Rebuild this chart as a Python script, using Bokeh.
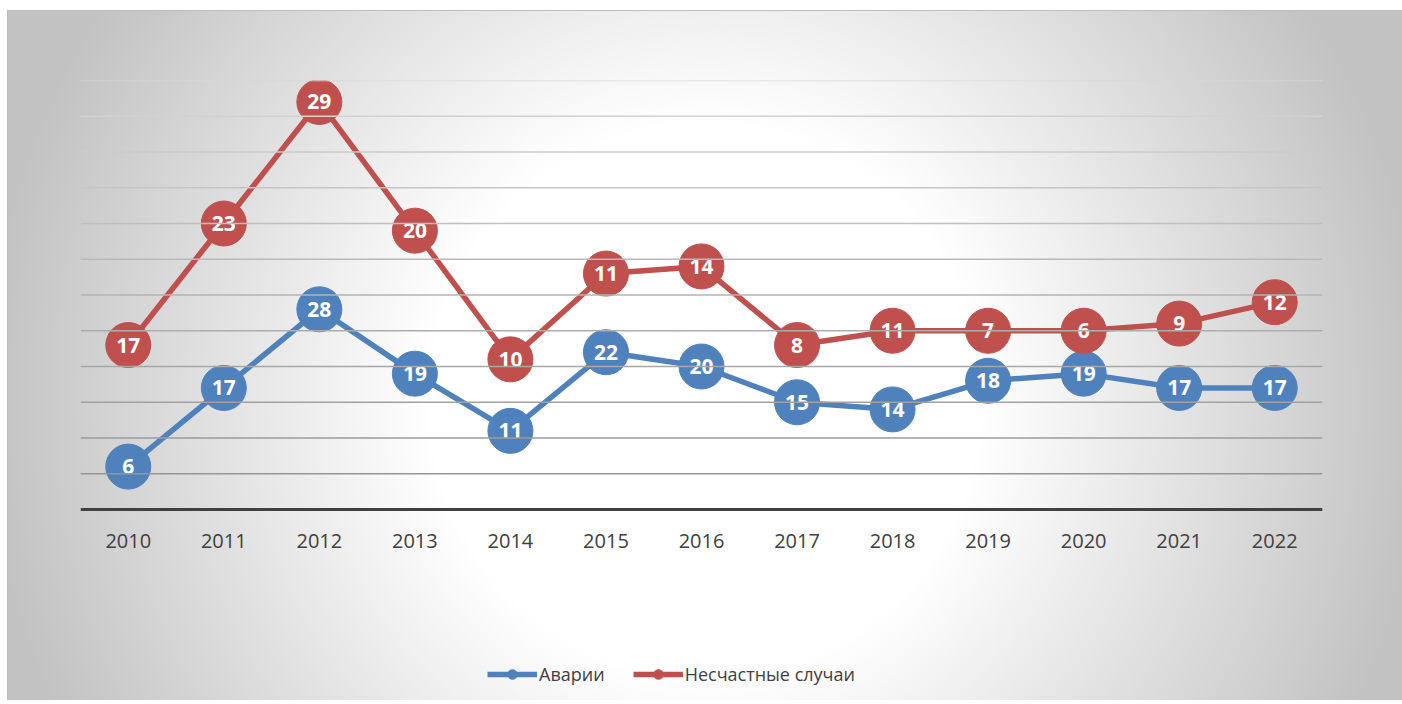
from bokeh.plotting import figure
from bokeh.models import FactorRange, Range1d, ColumnDataSource, Legend, LegendItem, Span
from bokeh.core.properties import value
from bokeh.embed import file_html
from bokeh.resources import INLINE

# ---- data ----
years = ["2010", "2011", "2012", "2013", "2014", "2015", "2016",
         "2017", "2018", "2019", "2020", "2021", "2022"]
accidents = [6, 17, 28, 19, 11, 22, 20, 15, 14, 18, 19, 17, 17]      # Аварии
injuries = [17, 23, 29, 20, 10, 11, 14, 8, 11, 7, 6, 9, 12]          # Несчастные случаи
series_names = ["Аварии", "Несчастные случаи"]
grid_values = [5, 10, 15, 20, 25, 30, 35, 40, 45, 50, 55, 60]
y_max = 60

# stacked line chart: second series sits on top of the first
stacked = [a + b for a, b in zip(accidents, injuries)]

BLUE = "#4F81BD"
RED = "#C0504D"
TEXT = "#404040"

# layout: value area is 429 px tall; the frame continues below the zero line
# to hold the axis labels and the legend
PLOT_H = 429
FRAME_H = 620
y_min = -y_max * (FRAME_H - PLOT_H) / PLOT_H

src_a = ColumnDataSource(dict(x=years, y=accidents, label=[str(v) for v in accidents]))
src_b = ColumnDataSource(dict(x=years, y=stacked, label=[str(v) for v in injuries]))

p = figure(
    x_range=FactorRange(*years, range_padding=0),
    y_range=Range1d(y_min, y_max),
    frame_width=1242, frame_height=FRAME_H,
    min_border_left=80, min_border_right=80,
    min_border_top=80, min_border_bottom=0,
    output_backend="svg", toolbar_location=None,
)
p.styles = {
    "background": (
        "linear-gradient(#bdbdbd,#bdbdbd) 8px 10px / 1394px 1px no-repeat, "
        "linear-gradient(#bdbdbd,#bdbdbd) 7px 10px / 1px 694px no-repeat, "
        "radial-gradient(circle 720px at 697px 390px, "
        "#ffffff 0%, #ffffff 38%, #c2c2c2 100%) 8px 10px / 1394px 694px no-repeat, "
        "#ffffff"
    ),
}
p.background_fill_alpha = 0
p.border_fill_alpha = 0
p.outline_line_color = None

# grid lines (darker toward the bottom, as in the original)
for v in grid_values:
    t = (v - grid_values[0]) / (grid_values[-1] - grid_values[0])
    c = int(150 + t * (215 - 150))
    p.add_layout(Span(location=v, dimension="width",
                      line_color="#%02x%02x%02x" % (c, c, c), line_width=1.5))

p.xgrid.visible = False
p.ygrid.visible = False
p.yaxis.visible = False

xa = p.xaxis[0]
xa.fixed_location = 0
xa.axis_line_color = TEXT
xa.axis_line_width = 3
xa.major_tick_line_color = None
xa.minor_tick_line_color = None
xa.major_label_text_font = "Open Sans"
xa.major_label_text_font_size = "20px"
xa.major_label_text_color = TEXT
xa.major_label_standoff = 18

bl = p.line("x", "y", source=src_a, line_color=BLUE, line_width=5.5, line_join="round")
rl = p.line("x", "y", source=src_b, line_color=RED, line_width=5.5, line_join="round")
bs = p.scatter("x", "y", source=src_a, size=45, fill_color=BLUE, line_color=BLUE)
rs = p.scatter("x", "y", source=src_b, size=45, fill_color=RED, line_color=RED)

for s in (src_a, src_b):
    p.text("x", "y", text="label", source=s, text_color="white",
           text_font=value("Open Sans"), text_font_style="bold",
           text_font_size="21px", text_align="center", text_baseline="middle")

legend = Legend(
    items=[LegendItem(label=series_names[0], renderers=[bl, bs]),
           LegendItem(label=series_names[1], renderers=[rl, rs])],
    orientation="horizontal", location=(407, 14),
    glyph_width=50, glyph_height=24, label_standoff=2, spacing=28,
    padding=0, margin=0, border_line_color=None, background_fill_alpha=0,
    label_text_font="Open Sans", label_text_font_size="18px",
    label_text_color=TEXT,
)
p.add_layout(legend, "center")

open("out.html", "w").write(file_html(p, INLINE))
